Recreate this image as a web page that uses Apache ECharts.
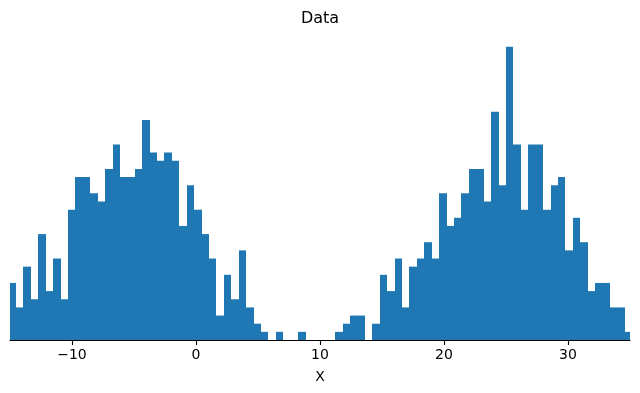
<!DOCTYPE html>
<html>
<head>
<meta charset="utf-8">
<script src="https://cdn.jsdelivr.net/npm/echarts@6/dist/echarts.min.js"></script>
<style>
html,body{margin:0;padding:0;background:#fff;}
#chart{width:640px;height:393px;}
</style>
</head>
<body>
<div id="chart"></div>
<script>
// Histogram bin setup
const binStart = -15.115;
const binWidth = 0.5987;
// Counts per bin, left to right
const counts = [
  7, 4, 9, 5, 13, 6, 10, 5, 16, 20,
  20, 18, 17, 21, 24, 20, 20, 21, 27, 23,
  22, 23, 22, 14, 19, 16, 13, 10, 3, 8,
  5, 11, 4, 2, 1, 0, 1, 0, 0, 1,
  0, 0, 0, 0, 1, 2, 3, 3, 0, 2,
  8, 6, 10, 4, 9, 10, 12, 10, 18, 14,
  15, 18, 21, 21, 17, 28, 19, 36, 24, 16,
  24, 24, 16, 19, 20, 11, 15, 12, 6, 7,
  7, 4, 4, 1
];
const tickValues = [-10, 0, 10, 20, 30];
const xRange = [-15, 35];
const titleText = 'Data';
const xName = 'X';

const histData = counts.map((c, i) => [binStart + i * binWidth, binStart + (i + 1) * binWidth, c]);
const yMax = Math.max(...counts) * 1.05;

const chart = echarts.init(document.getElementById('chart'), null, {renderer: 'canvas'});
const font = 'DejaVu Sans';
chart.setOption({
  animation: false,
  backgroundColor: '#ffffff',
  title: {
    text: titleText,
    left: 'center',
    top: 6,
    textStyle: {fontFamily: font, fontSize: 16, fontWeight: 'normal', color: '#000'}
  },
  grid: {left: 10, right: 10, top: 32, height: 308},
  xAxis: {
    type: 'value',
    min: xRange[0],
    max: xRange[1],
    name: xName,
    nameLocation: 'middle',
    nameGap: 30,
    nameTextStyle: {fontFamily: font, fontSize: 14, color: '#000'},
    axisLine: {show: true, onZero: false, lineStyle: {color: '#000', width: 1.1}},
    axisTick: {show: true, length: 5, lineStyle: {color: '#000', width: 1.1}, customValues: tickValues},
    axisLabel: {
      fontFamily: font, fontSize: 14, color: '#000', margin: 8,
      customValues: tickValues,
      formatter: v => String(v).replace('-', '\u2212')
    },
    splitLine: {show: false}
  },
  yAxis: {
    type: 'value',
    min: 0,
    max: yMax,
    show: false,
    splitLine: {show: false}
  },
  series: [{
    type: 'custom',
    data: histData,
    encode: {x: [0, 1], y: 2},
    renderItem: function (params, api) {
      const p0 = api.coord([api.value(0), 0]);
      const p1 = api.coord([api.value(1), api.value(2)]);
      const x0 = Math.round(p0[0]);
      const x1 = Math.round(p1[0]);
      const shape = echarts.graphic.clipRectByRect(
        {x: x0, y: p1[1], width: x1 - x0, height: p0[1] - p1[1]},
        {x: params.coordSys.x, y: params.coordSys.y, width: params.coordSys.width, height: params.coordSys.height}
      );
      if (!shape) return null;
      return {type: 'rect', shape: shape, style: {fill: '#1f77b4', stroke: null}};
    }
  }]
});
</script>
</body>
</html>
